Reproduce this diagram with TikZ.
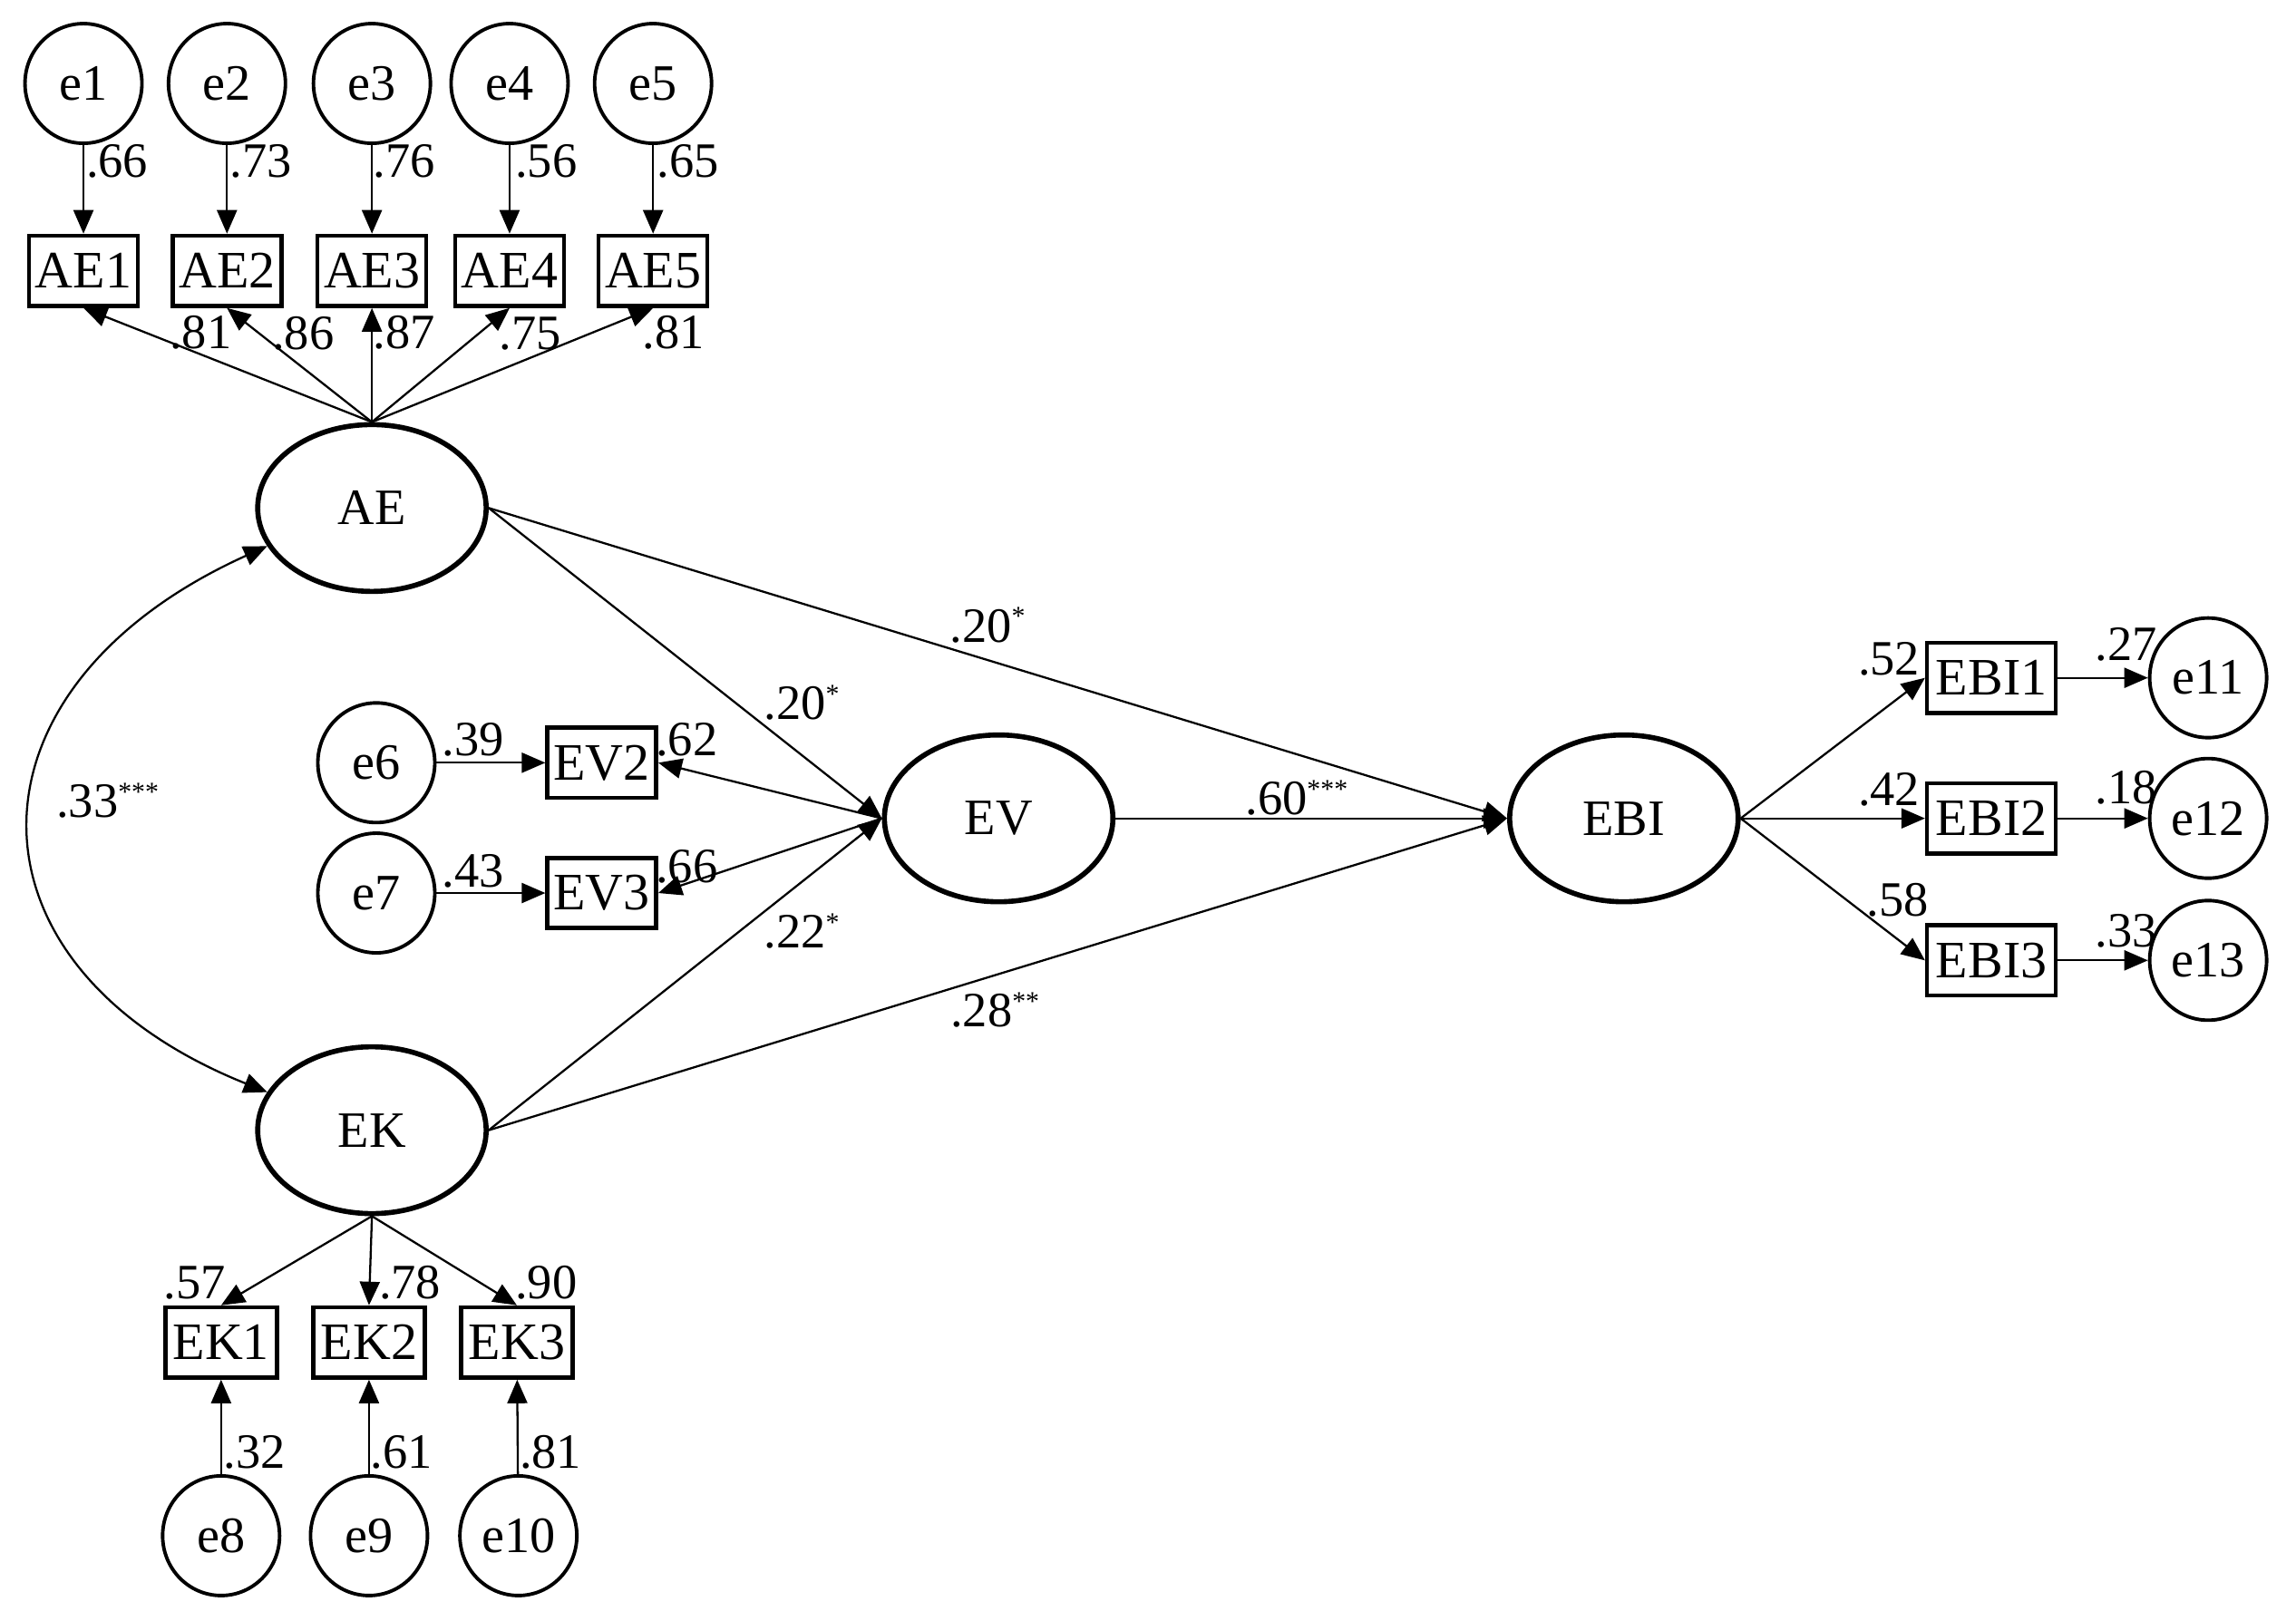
\documentclass[tikz,border=0pt]{standalone}
\usepackage{fontspec}
\setmainfont{Liberation Serif}
\usetikzlibrary{arrows.meta,shapes.geometric}
\newcommand{\stars}[1]{\textsuperscript{\fontsize{8.5}{8.5}\selectfont #1}}
\begin{document}
\begin{tikzpicture}[x=0.1615mm,y=-0.1615mm,
  lat/.style={ellipse,draw,line width=1.6pt,minimum width=25.2mm,minimum height=18.4mm,inner sep=0pt,font=\fontsize{16}{16}\selectfont},
  err/.style={ellipse,draw,line width=1.1pt,minimum width=12.9mm,minimum height=13.2mm,inner sep=0pt,font=\fontsize{16}{16}\selectfont},
  obs/.style={rectangle,draw,line width=1.3pt,minimum width=12mm,minimum height=7.75mm,inner sep=0pt,font=\fontsize{16.5}{16.5}\selectfont},
  arr/.style={line width=0.65pt,-{Triangle[length=2.6mm,width=2.2mm]}},
  cov/.style={line width=0.65pt,{Triangle[length=2.6mm,width=2.2mm]}-{Triangle[length=2.6mm,width=2.2mm]}},
  lab/.style={inner sep=0pt,font=\fontsize{15.5}{15.5}\selectfont}]
\useasboundingbox (0,0) rectangle (1568,1107);
% error terms top
\node[err] (e1) at (57,57) {e1};
\node[err] (e2) at (155,57) {e2};
\node[err] (e3) at (254,57) {e3};
\node[err] (e4) at (348,57) {e4};
\node[err] (e5) at (446,57) {e5};
\node[obs] (AE1) at (57,185) {AE1};
\node[obs] (AE2) at (155,185) {AE2};
\node[obs] (AE3) at (254,185) {AE3};
\node[obs] (AE4) at (348,185) {AE4};
\node[obs] (AE5) at (446,185) {AE5};
% latents
\node[lat] (AE) at (254,347) {AE};
\node[lat] (EV) at (682,559) {EV};
\node[lat] (EBI) at (1109,559) {EBI};
\node[lat] (EK) at (254,772) {EK};
% EV indicators
\node[err] (e6) at (257,521) {e6};
\node[err] (e7) at (257,610) {e7};
\node[obs] (EV2) at (411,521) {EV2};
\node[obs] (EV3) at (411,610) {EV3};
% EBI indicators
\node[obs,minimum width=14.2mm] (EBI1) at (1360,463) {EBI1};
\node[obs,minimum width=14.2mm] (EBI2) at (1360,559) {EBI2};
\node[obs,minimum width=14.2mm] (EBI3) at (1360,656) {EBI3};
\node[err] (e11) at (1508,463) {e11};
\node[err] (e12) at (1508,559) {e12};
\node[err] (e13) at (1508,656) {e13};
% EK indicators
\node[obs,minimum width=12.3mm] (EK1) at (151,917) {EK1};
\node[obs,minimum width=12.3mm] (EK2) at (252,917) {EK2};
\node[obs,minimum width=12.3mm] (EK3) at (353,917) {EK3};
\node[err] (e8) at (151,1049) {e8};
\node[err] (e9) at (252,1049) {e9};
\node[err] (e10) at (354,1049) {e10};
% connectors
\foreach \i in {1,...,5} {
  \draw[arr] (e\i) -- (AE\i);
  \draw[arr] (AE.north) -- (AE\i.south);
}
\draw[arr] (AE.east) -- (EV.west);
\draw[arr] (AE.east) -- (EBI.west);
\draw[arr] (EK.east) -- (EV.west);
\draw[arr] (EK.east) -- (EBI.west);
\draw[arr] (EV) -- (EBI);
\draw[arr] (EV.west) -- (EV2.east);
\draw[arr] (EV.west) -- (EV3.east);
\draw[arr] (e6) -- (EV2);
\draw[arr] (e7) -- (EV3);
\draw[arr] (EBI.east) -- (EBI1.west);
\draw[arr] (EBI.east) -- (EBI2.west);
\draw[arr] (EBI.east) -- (EBI3.west);
\draw[arr] (EBI1) -- (e11);
\draw[arr] (EBI2) -- (e12);
\draw[arr] (EBI3) -- (e13);
\draw[arr] (EK.south) -- (EK1.north);
\draw[arr] (EK.south) -- (EK2.north);
\draw[arr] (EK.south) -- (EK3.north);
\draw[arr] (e8) -- (EK1);
\draw[arr] (e9) -- (EK2);
\draw[arr] (e10) -- (EK3);
\draw[cov] (AE.200) .. controls (-32,470) and (-32,660) .. (EK.160);
% labels
\node[lab] (l1) at (80,110) {.66};
\node[lab] (l2) at (178,110) {.73};
\node[lab] (l3) at (276,110) {.76};
\node[lab] (l4) at (373,110) {.56};
\node[lab] (l5) at (470,110) {.65};
\node[lab] (l6) at (137,227) {.81};
\node[lab] (l7) at (207,228) {.86};
\node[lab] (l8) at (276,227) {.87};
\node[lab] (l9) at (362,228) {.75};
\node[lab] (l10) at (460,227) {.81};
\node[lab] (l11) at (675,427) {.20\stars{*}};
\node[lab] (l12) at (548,480) {.20\stars{*}};
\node[lab] (l13) at (323,505) {.39};
\node[lab] (l14) at (469,505) {.62};
\node[lab] (l15) at (323,595) {.43};
\node[lab] (l16) at (469,592) {.66};
\node[lab] (l17) at (548,636) {.22\stars{*}};
\node[lab] (l18) at (886,545) {.60\stars{***}};
\node[lab] (l19) at (680,690) {.28\stars{**}};
\node[lab] (l20) at (74,547) {.33\stars{***}};
\node[lab] (l21) at (1290,450) {.52};
\node[lab] (l22) at (1290,539) {.42};
\node[lab] (l23) at (1296,615) {.58};
\node[lab] (l24) at (1452,440) {.27};
\node[lab] (l25) at (1452,538) {.18};
\node[lab] (l26) at (1452,636) {.33};
\node[lab] (l27) at (133,876) {.57};
\node[lab] (l28) at (280,876) {.78};
\node[lab] (l29) at (373,876) {.90};
\node[lab] (l30) at (174,992) {.32};
\node[lab] (l31) at (274,992) {.61};
\node[lab] (l32) at (376,992) {.81};
\end{tikzpicture}
\end{document}
